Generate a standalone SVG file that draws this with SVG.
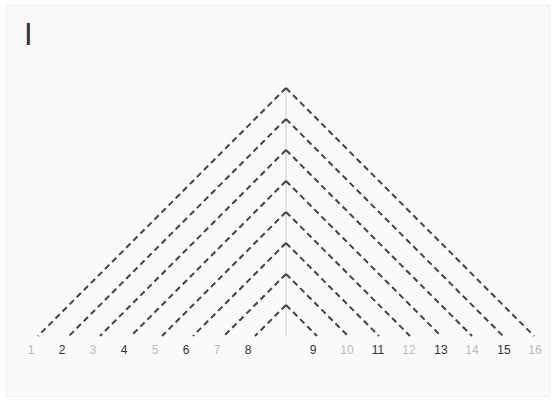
<svg xmlns="http://www.w3.org/2000/svg" width="556" height="403" viewBox="0 0 556 403">
<style>
.bg{fill:#fafafa;stroke:#eeeeee;stroke-width:1}
.d{fill:none;stroke:#444;stroke-width:2;stroke-dasharray:6,4}
.axis{stroke:#cccccc;stroke-width:1}
.lbl{font-family:"Liberation Sans",Arial,sans-serif;font-size:12px;text-anchor:middle}
.dk{fill:#333}
.lt{fill:#bbbbbb}
.title{font-family:"Liberation Sans",Arial,sans-serif;font-size:31px;fill:#333}
</style>
<rect class="bg" x="6.5" y="5.5" width="543" height="391"/>
<text class="title" x="24" y="45">I</text>
<line class="axis" x1="286" y1="88" x2="286" y2="336"/>
<g id="connectors">
<path class="d" d="M286,88L38,336"/>
<path class="d" d="M286,119L69,336"/>
<path class="d" d="M286,150L100,336"/>
<path class="d" d="M286,181L131,336"/>
<path class="d" d="M286,212L162,336"/>
<path class="d" d="M286,243L193,336"/>
<path class="d" d="M286,274L224,336"/>
<path class="d" d="M286,305L255,336"/>
<path class="d" d="M286,305L317,336"/>
<path class="d" d="M286,274L348,336"/>
<path class="d" d="M286,243L379,336"/>
<path class="d" d="M286,212L410,336"/>
<path class="d" d="M286,181L441,336"/>
<path class="d" d="M286,150L472,336"/>
<path class="d" d="M286,119L503,336"/>
<path class="d" d="M286,88L534,336"/>
</g>
<g id="n1"><text class="lbl lt" x="31" y="354">1</text></g>
<g id="n2"><text class="lbl dk" x="62" y="354">2</text></g>
<g id="n3"><text class="lbl lt" x="93" y="354">3</text></g>
<g id="n4"><text class="lbl dk" x="124" y="354">4</text></g>
<g id="n5"><text class="lbl lt" x="155" y="354">5</text></g>
<g id="n6"><text class="lbl dk" x="186" y="354">6</text></g>
<g id="n7"><text class="lbl lt" x="217" y="354">7</text></g>
<g id="n8"><text class="lbl dk" x="248" y="354">8</text></g>
<g id="n9"><text class="lbl dk" x="313" y="354">9</text></g>
<g id="n10"><text class="lbl lt" x="347" y="354">10</text></g>
<g id="n11"><text class="lbl dk" x="378" y="354">11</text></g>
<g id="n12"><text class="lbl lt" x="409" y="354">12</text></g>
<g id="n13"><text class="lbl dk" x="441" y="354">13</text></g>
<g id="n14"><text class="lbl lt" x="472" y="354">14</text></g>
<g id="n15"><text class="lbl dk" x="504" y="354">15</text></g>
<g id="n16"><text class="lbl lt" x="535" y="354">16</text></g>
</svg>
